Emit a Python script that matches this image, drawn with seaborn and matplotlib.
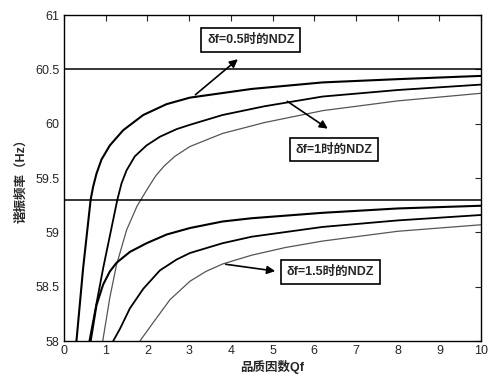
import numpy as np
import pandas as pd
import matplotlib
matplotlib.use("Agg")
import matplotlib.pyplot as plt
import seaborn as sns

# Values (Qf, resonant frequency in Hz)
qf_u1 = [0.30, 0.46, 0.64, 0.70, 0.78, 0.90, 1.10, 1.42, 1.90, 2.46, 3.02, 4.50, 6.20, 8.00, 10.0]
f_u1 = [58.0, 58.67, 59.30, 59.42, 59.54, 59.67, 59.80, 59.94, 60.08, 60.18, 60.24, 60.32, 60.38, 60.41, 60.44]

qf_u2 = [0.61, 0.94, 1.28, 1.38, 1.50, 1.70, 1.98, 2.30, 2.70, 3.02, 3.80, 4.80, 6.20, 8.00, 10.0]
f_u2 = [58.0, 58.67, 59.30, 59.45, 59.57, 59.70, 59.80, 59.88, 59.95, 59.99, 60.08, 60.16, 60.25, 60.31, 60.36]

qf_u3 = [0.93, 1.10, 1.26, 1.50, 1.75, 2.00, 2.20, 2.40, 2.66, 3.02, 3.80, 4.80, 6.20, 8.00, 10.0]
f_u3 = [58.0, 58.40, 58.70, 59.02, 59.24, 59.40, 59.52, 59.61, 59.70, 59.79, 59.91, 60.01, 60.12, 60.21, 60.28]

qf_l1 = [0.64, 0.78, 0.94, 1.10, 1.26, 1.58, 1.98, 2.46, 3.02, 3.80, 4.50, 6.20, 8.00, 10.0]
f_l1 = [58.0, 58.33, 58.52, 58.64, 58.72, 58.82, 58.90, 58.98, 59.04, 59.10, 59.13, 59.18, 59.22, 59.245]

qf_l2 = [1.18, 1.34, 1.58, 1.90, 2.30, 2.70, 3.02, 3.80, 4.50, 6.20, 8.00, 10.0]
f_l2 = [58.0, 58.11, 58.30, 58.48, 58.65, 58.75, 58.81, 58.90, 58.96, 59.05, 59.11, 59.16]

qf_l3 = [1.82, 2.14, 2.54, 3.02, 3.40, 3.81, 4.50, 5.30, 6.20, 8.00, 10.0]
f_l3 = [58.0, 58.17, 58.38, 58.55, 58.64, 58.71, 58.79, 58.86, 58.92, 59.01, 59.07]

thresholds = [60.5, 59.3]

labels = ["δf=0.5时的NDZ", "δf=1时的NDZ", "δf=1.5时的NDZ"]
xticks = [0, 1, 2, 3, 4, 5, 6, 7, 8, 9, 10]
yticks = [58, 58.5, 59, 59.5, 60, 60.5, 61]
yticklabels = ["58", "58.5", "59", "59.5", "60", "60.5", "61"]

sns.set_style("white")
plt.rcParams["font.family"] = ["Liberation Sans", "Noto Sans CJK SC", "DejaVu Sans"]

fig = plt.figure(figsize=(4.88, 3.76), dpi=100)
ax = fig.add_axes([0.131, 0.093, 0.855, 0.867])

curves = [
    (qf_u1, f_u1, "black", 1.5),
    (qf_u2, f_u2, "black", 1.3),
    (qf_u3, f_u3, "#555555", 0.9),
    (qf_l1, f_l1, "black", 1.5),
    (qf_l2, f_l2, "black", 1.3),
    (qf_l3, f_l3, "#555555", 0.9),
]
for qf, f, col, lw in curves:
    sns.lineplot(x=qf, y=f, ax=ax, color=col, linewidth=lw, sort=False)

for t in thresholds:
    ax.axhline(t, color="black", linewidth=1.1)

ax.set_xlim(0, 10)
ax.set_ylim(58, 61)
ax.set_xticks(xticks)
ax.set_yticks(yticks)
ax.set_yticklabels(yticklabels)
ax.tick_params(direction="in", top=True, right=True, length=4, labelsize=9,
               width=0.8, pad=3)
for s in ax.spines.values():
    s.set_color("black")
    s.set_linewidth(1.0)

ax.set_xlabel("品质因数Qf", fontsize=9, fontweight="bold", labelpad=2)
ax.set_ylabel("谐振频率（Hz）", fontsize=9, fontweight="bold", labelpad=6)

box = dict(boxstyle="square,pad=0.45", fc="white", ec="black", lw=1.2)
arrow = dict(arrowstyle="-|>", color="black", lw=1.2, mutation_scale=12)

ax.annotate("", xy=(4.22, 60.61), xytext=(3.1, 60.25), arrowprops=arrow)
ax.annotate("", xy=(6.38, 59.94), xytext=(5.3, 60.22), arrowprops=arrow)
ax.annotate("", xy=(5.13, 58.64), xytext=(3.81, 58.71), arrowprops=arrow)

ax.text(4.48, 60.77, labels[0], fontsize=9, fontweight="bold", ha="center",
        va="center", bbox=box)
ax.text(6.47, 59.76, labels[1], fontsize=9, fontweight="bold", ha="center",
        va="center", bbox=box)
ax.text(6.38, 58.635, labels[2], fontsize=9, fontweight="bold", ha="center",
        va="center", bbox=box)

fig.savefig("out.png", dpi=100)
